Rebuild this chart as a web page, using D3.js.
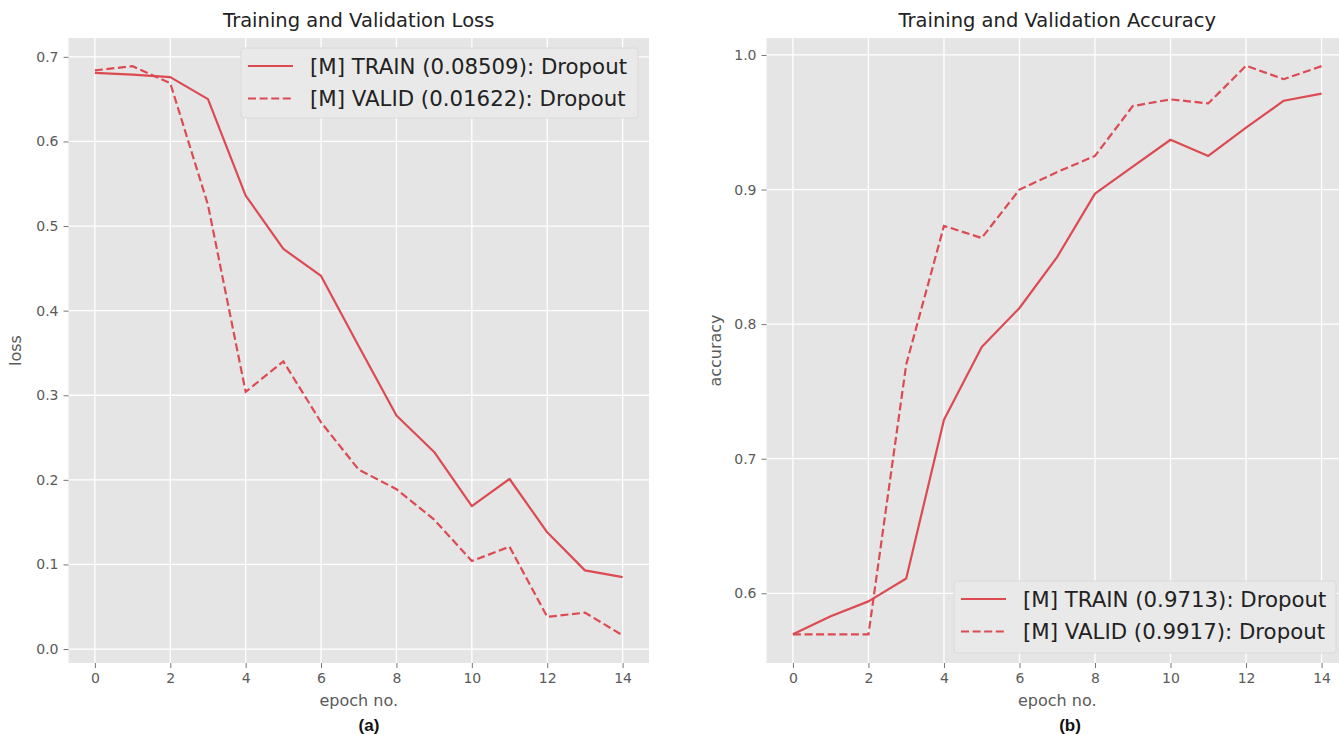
<!DOCTYPE html>
<html>
<head>
<meta charset="utf-8">
<script src="https://cdn.jsdelivr.net/npm/d3@7"></script>
<style>
  html, body { margin: 0; padding: 0; background: #fff; }
  svg { display: block; }
  text { font-family: "DejaVu Sans", sans-serif; }
</style>
</head>
<body>
<svg id="chart" width="1339" height="734"></svg>
<script>
// ---- data ----
const epochs = [0,1,2,3,4,5,6,7,8,9,10,11,12,13,14];
const lossTrain = [0.681,0.679,0.676,0.650,0.536,0.473,0.441,0.358,0.276,0.233,0.169,0.201,0.138,0.093,0.08509];
const lossValid = [0.684,0.689,0.669,0.525,0.304,0.340,0.268,0.212,0.189,0.153,0.104,0.121,0.038,0.043,0.01622];
const accTrain  = [0.5695,0.583,0.594,0.611,0.729,0.783,0.812,0.850,0.897,0.917,0.937,0.925,0.946,0.966,0.9713];
const accValid  = [0.5695,0.5695,0.5695,0.770,0.873,0.864,0.900,0.913,0.925,0.962,0.967,0.964,0.992,0.982,0.9917];
const xTicks = [0,2,4,6,8,10,12,14];
const lossTicks = [0.0,0.1,0.2,0.3,0.4,0.5,0.6,0.7];
const accTicks = [0.6,0.7,0.8,0.9,1.0];
const lossLegend = ["[M] TRAIN (0.08509): Dropout", "[M] VALID (0.01622): Dropout"];
const accLegend = ["[M] TRAIN (0.9713): Dropout", "[M] VALID (0.9917): Dropout"];

const svg = d3.select("#chart");
const LINE = "#dc4a52";
const BG = "#e5e5e5";

function panel(opt) {
  const {x0, x1, y0, y1, yDomain, yTicks, train, valid, title, ylabel, ylabelX, tag, tagX, legend, legendBox, clipId} = opt;
  const x = d3.scaleLinear().domain([-0.7, 14.7]).range([x0, x1]);
  const y = d3.scaleLinear().domain(yDomain).range([y1, y0]);
  const g = svg.append("g");

  g.append("rect").attr("x", x0).attr("y", y0).attr("width", x1 - x0).attr("height", y1 - y0).attr("fill", BG);

  // grid
  g.selectAll(".vg").data(xTicks).join("line")
    .attr("x1", d => x(d)).attr("x2", d => x(d)).attr("y1", y0).attr("y2", y1)
    .attr("stroke", "#fff").attr("stroke-width", 1.3);
  g.selectAll(".hg").data(yTicks).join("line")
    .attr("y1", d => y(d)).attr("y2", d => y(d)).attr("x1", x0).attr("x2", x1)
    .attr("stroke", "#fff").attr("stroke-width", 1.3);

  // axes
  const xa = g.append("g").attr("transform", `translate(0,${y1})`)
    .call(d3.axisBottom(x).tickValues(xTicks).tickSize(5).tickPadding(5).tickFormat(d3.format("d")));
  const ya = g.append("g").attr("transform", `translate(${x0},0)`)
    .call(d3.axisLeft(y).tickValues(yTicks).tickSize(5).tickPadding(5).tickFormat(d3.format(".1f")));
  [xa, ya].forEach(a => {
    a.select(".domain").remove();
    a.selectAll(".tick line").attr("stroke", "#777").attr("stroke-width", 1);
    a.selectAll(".tick text").attr("fill", "#5a5a5a").style("font-size", "14px").style("font-family", "DejaVu Sans");
  });

  // clip
  svg.append("defs").append("clipPath").attr("id", clipId)
    .append("rect").attr("x", x0).attr("y", y0).attr("width", x1 - x0).attr("height", y1 - y0);

  const line = d3.line().x((d, i) => x(epochs[i])).y(d => y(d));
  g.append("path").datum(train).attr("d", line).attr("fill", "none")
    .attr("stroke", LINE).attr("stroke-width", 2.2).attr("stroke-linejoin", "round")
    .attr("clip-path", `url(#${clipId})`);
  g.append("path").datum(valid).attr("d", line).attr("fill", "none")
    .attr("stroke", LINE).attr("stroke-width", 2.2).attr("stroke-dasharray", "8,3.6")
    .attr("clip-path", `url(#${clipId})`);

  // title
  g.append("text").attr("x", (x0 + Math.min(x1, 1348)) / 2).attr("y", 27)
    .attr("text-anchor", "middle").attr("fill", "#222").style("font-size", "19.5px").text(title);

  // x label
  g.append("text").attr("x", (x0 + x1) / 2).attr("y", 706)
    .attr("text-anchor", "middle").attr("fill", "#5a5a5a").style("font-size", "16px").text("epoch no.");
  // y label
  g.append("text").attr("transform", `translate(${ylabelX},${(y0 + y1) / 2}) rotate(-90)`)
    .attr("text-anchor", "middle").attr("fill", "#5a5a5a").style("font-size", "16px").text(ylabel);
  // panel tag
  g.append("text").attr("x", tagX).attr("y", 731)
    .attr("text-anchor", "middle").attr("fill", "#111")
    .style("font-family", "Liberation Sans, Arial, sans-serif").style("font-weight", "bold").style("font-size", "17px").text(tag);

  // legend
  const lb = legendBox;
  const lg = g.append("g");
  lg.append("rect").attr("x", lb.x).attr("y", lb.y).attr("width", lb.w).attr("height", lb.h)
    .attr("rx", 3).attr("fill", "#e9e9e9").attr("stroke", "#dadada").attr("stroke-width", 1);
  legend.forEach((t, i) => {
    const ry = lb.y + 18 + i * 32.5;
    lg.append("line").attr("x1", lb.x + 7).attr("x2", lb.x + 52).attr("y1", ry).attr("y2", ry)
      .attr("stroke", LINE).attr("stroke-width", 2.2)
      .attr("stroke-dasharray", i === 1 ? "8,3.6" : null);
    lg.append("text").attr("x", lb.x + 69).attr("y", ry + 7.5).attr("fill", "#222")
      .style("font-size", "21.3px").text(t);
  });
}

panel({
  x0: 68.5, x1: 649, y0: 38, y1: 663,
  yDomain: [-0.0165, 0.7223], yTicks: lossTicks,
  train: lossTrain, valid: lossValid,
  title: "Training and Validation Loss", ylabel: "loss", ylabelX: 21, tag: "(a)", tagX: 369,
  legend: lossLegend, legendBox: {x: 241, y: 48, w: 397, h: 70}, clipId: "c1"
});
panel({
  x0: 766.5, x1: 1348, y0: 38, y1: 663,
  yDomain: [0.5482, 1.0126], yTicks: accTicks,
  train: accTrain, valid: accValid,
  title: "Training and Validation Accuracy", ylabel: "accuracy", ylabelX: 721, tag: "(b)", tagX: 1070,
  legend: accLegend, legendBox: {x: 954, y: 581, w: 382, h: 72}, clipId: "c2"
});
</script>
</body>
</html>
